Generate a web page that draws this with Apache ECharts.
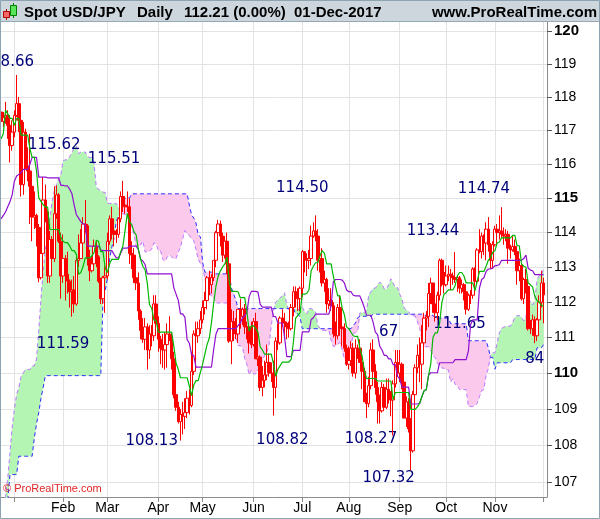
<!DOCTYPE html>
<html><head><meta charset="utf-8">
<script src="https://cdn.jsdelivr.net/npm/echarts@6/dist/echarts.min.js"></script>
<style>html,body{margin:0;padding:0;background:#fff}#c{width:600px;height:519px}</style>
</head><body><div id="c"></div>
<script>
// ---- Data: Spot USD/JPY daily, 23-Dec-2016 .. 01-Dec-2017 ----
const opens = [
117.55,117.27,117.38,117.45,117.15,116.55,116.95,117.45,117.80,117.30,
115.40,116.95,115.95,115.80,115.35,114.45,114.50,114.15,112.70,113.40,
114.95,114.60,112.75,113.80,113.25,114.55,115.10,113.75,112.75,113.25,
112.80,112.60,112.30,112.35,111.95,113.20,113.25,113.70,114.25,114.20,
113.25,112.90,113.10,113.60,113.30,112.60,112.10,112.70,112.75,113.75,
114.40,114.05,113.95,113.95,114.40,115.05,114.80,114.75,114.75,113.40,
113.35,112.70,112.55,111.75,111.20,110.95,111.30,110.65,111.10,111.05,
111.95,111.40,110.95,110.70,110.65,110.80,111.10,111.05,110.40,109.40,
109.05,108.65,108.85,108.80,108.90,109.30,109.10,110.05,111.10,111.05,
111.25,111.50,111.85,112.05,112.70,112.50,112.70,113.20,114.00,114.25,
113.90,113.35,113.75,113.10,110.90,111.45,111.25,111.10,111.80,111.60,
111.80,111.30,111.30,110.85,110.80,111.45,110.40,110.45,109.60,109.80,
109.95,110.30,110.00,110.00,109.60,110.90,110.85,111.55,111.45,111.40,
111.30,111.25,111.85,112.30,112.30,112.10,112.40,113.45,113.25,113.20,
113.25,113.90,114.05,113.90,113.20,113.25,112.55,112.65,111.95,112.05,
111.90,111.10,111.05,111.85,111.30,111.25,110.70,110.25,110.35,110.70,
110.00,110.70,110.70,110.30,110.05,109.20,109.15,109.65,110.65,110.05,
109.60,109.20,108.95,109.60,109.05,109.55,109.35,109.25,109.70,110.30,
110.00,110.25,109.75,108.75,109.20,108.45,107.85,109.40,110.15,110.50,
110.25,110.85,111.55,111.60,112.25,112.55,111.95,111.70,112.20,113.20,
112.85,112.50,112.75,112.80,112.75,112.70,112.65,112.70,112.40,112.50,
112.30,111.80,112.20,112.20,112.95,112.60,113.50,113.45,113.90,113.70,
114.10,113.65,113.20,113.65,114.10,114.00,114.05,113.95,113.90,113.95,
113.55,113.50,113.60,113.45,112.90,113.05,112.10,112.65,112.45,111.25,
111.25,111.50,111.05,111.50,112.00,112.55];
const highs = [
117.70,117.55,117.85,117.60,117.25,117.30,117.60,118.66,118.00,117.45,
117.25,117.05,116.50,116.90,115.50,115.20,114.55,114.25,113.85,115.62,
115.40,114.65,114.05,113.90,115.35,115.37,115.15,114.00,113.95,113.35,
113.45,112.65,112.65,112.75,113.30,113.95,114.10,114.45,114.95,114.25,
113.50,113.30,113.80,113.75,113.35,112.70,112.75,113.05,114.00,114.50,
114.75,114.15,114.10,114.45,115.20,115.51,115.05,115.20,115.00,113.75,
113.55,112.90,112.85,111.80,111.55,111.55,111.40,111.35,111.35,112.20,
112.20,111.60,111.05,111.10,111.15,111.40,111.60,111.15,110.60,109.80,
109.20,109.00,109.20,109.30,109.50,109.55,110.60,111.20,111.45,111.45,
111.75,112.05,112.30,112.75,112.90,112.80,113.20,114.05,114.37,114.35,
114.00,113.90,114.00,113.20,111.80,111.75,111.55,111.80,112.10,111.85,
111.95,111.45,111.30,111.45,111.55,111.70,110.65,110.50,110.20,110.35,
110.80,110.55,110.30,110.35,111.00,111.40,111.60,111.80,111.70,111.45,
111.45,111.95,112.45,112.45,112.40,112.45,113.50,113.45,113.40,113.50,
114.20,114.30,114.50,114.10,113.45,113.55,112.90,112.70,112.40,112.40,
112.00,111.45,111.95,112.20,111.55,111.40,110.80,110.75,110.90,110.85,
110.95,110.80,110.95,110.40,110.15,109.45,109.90,110.85,110.95,110.25,
109.75,109.40,109.75,109.70,109.85,109.85,109.50,109.80,110.65,110.65,
110.65,110.30,109.90,109.35,109.30,108.75,109.50,110.25,110.80,111.00,
111.35,111.70,111.75,112.55,112.70,112.55,112.20,112.30,113.25,113.25,
112.95,113.05,113.05,112.95,112.85,113.44,112.75,112.75,112.65,112.55,
112.50,112.25,112.35,113.00,113.00,113.55,114.10,114.00,113.95,114.30,
114.45,113.70,113.75,114.20,114.25,114.50,114.74,114.15,114.10,114.05,
113.65,113.90,113.80,113.50,113.25,113.15,112.70,112.95,112.50,111.50,
111.65,111.60,111.55,112.20,112.90,112.70];
const lows = [
117.10,117.10,117.20,116.75,116.05,116.40,116.80,117.40,116.95,115.05,
115.10,115.85,115.50,114.25,113.75,114.10,113.60,112.57,112.65,113.10,
114.30,112.55,112.55,112.85,113.15,114.40,113.70,112.10,112.55,112.05,
112.25,111.85,111.59,111.70,111.90,113.00,113.25,113.55,114.00,113.05,
112.60,112.85,113.00,113.00,112.55,111.95,111.95,111.70,112.65,113.65,
113.80,113.60,113.70,113.85,114.30,114.60,114.55,114.60,113.10,112.95,
112.55,112.35,111.50,110.95,110.85,110.65,110.10,110.40,110.75,110.90,
111.25,110.60,110.25,110.15,110.10,110.15,110.90,110.10,109.30,108.95,
108.60,108.13,108.30,108.45,108.75,108.85,109.05,109.95,110.75,110.85,
111.10,111.40,111.65,111.80,112.20,112.25,112.60,113.00,113.75,113.60,
113.15,113.25,112.80,110.85,110.25,110.90,110.95,110.85,111.25,111.35,
111.10,110.95,110.55,110.70,110.75,110.40,110.20,109.50,109.35,109.60,
109.80,109.90,109.75,108.82,109.30,110.65,110.80,111.30,110.95,110.95,
111.00,111.20,111.60,111.85,111.75,111.75,112.15,112.85,112.75,112.95,
113.05,113.85,113.75,112.90,112.85,112.45,112.30,111.70,111.80,111.75,
111.00,110.80,110.95,111.05,110.75,110.60,110.20,110.10,110.20,109.90,
109.85,110.40,110.30,109.55,109.20,108.75,109.05,109.55,109.85,109.40,
108.60,108.60,108.90,108.95,109.00,109.15,108.80,108.27,109.60,109.90,
109.75,109.55,108.75,108.50,108.35,107.32,107.80,109.30,110.00,109.75,
109.55,110.70,111.20,111.30,111.95,111.70,111.45,111.50,112.05,112.45,
112.25,112.45,112.60,112.35,112.50,112.55,112.30,112.25,112.25,112.05,
111.65,111.75,111.95,112.10,112.40,112.50,113.40,113.25,113.35,113.20,
113.45,112.95,112.95,113.60,113.70,113.80,113.85,113.65,113.75,113.10,
113.25,113.45,113.35,112.50,112.60,112.05,111.95,112.25,111.20,111.10,
111.05,110.84,110.90,111.35,111.85,111.40];
const closes = [
117.27,117.38,117.45,117.15,116.55,116.95,117.45,117.80,117.30,115.40,
116.95,115.95,115.80,115.35,114.45,114.50,114.15,112.70,113.40,114.95,
114.60,112.75,113.80,113.25,114.55,115.10,113.75,112.75,113.25,112.80,
112.60,112.30,112.35,111.95,113.20,113.25,113.70,114.25,114.20,113.25,
112.90,113.10,113.60,113.30,112.60,112.10,112.70,112.75,113.75,114.40,
114.05,113.95,113.95,114.40,115.05,114.80,114.75,114.75,113.40,113.35,
112.70,112.55,111.75,111.20,110.95,111.30,110.65,111.10,111.05,111.95,
111.40,110.95,110.70,110.65,110.80,111.10,111.05,110.40,109.40,109.05,
108.65,108.85,108.80,108.90,109.30,109.10,110.05,111.10,111.05,111.25,
111.50,111.85,112.05,112.70,112.50,112.70,113.20,114.00,114.25,113.90,
113.35,113.75,113.10,110.90,111.45,111.25,111.10,111.80,111.60,111.80,
111.30,111.30,110.85,110.80,111.45,110.40,110.45,109.60,109.80,109.95,
110.30,110.00,110.00,109.60,110.90,110.85,111.55,111.45,111.40,111.30,
111.25,111.85,112.30,112.30,112.10,112.40,113.45,113.25,113.20,113.25,
113.90,114.05,113.90,113.20,113.25,112.55,112.65,111.95,112.05,111.90,
111.10,111.05,111.85,111.30,111.25,110.70,110.25,110.35,110.70,110.00,
110.70,110.70,110.30,110.05,109.20,109.15,109.65,110.65,110.05,109.60,
109.20,108.95,109.60,109.05,109.55,109.35,109.25,109.70,110.30,110.00,
110.25,109.75,108.75,109.20,108.45,107.85,109.40,110.15,110.50,110.25,
110.85,111.55,111.60,112.25,112.55,111.95,111.70,112.20,113.20,112.85,
112.50,112.75,112.80,112.75,112.70,112.65,112.70,112.40,112.50,112.30,
111.80,112.20,112.20,112.95,112.60,113.50,113.45,113.90,113.70,114.10,
113.65,113.20,113.65,114.10,114.00,114.05,113.95,113.90,113.95,113.55,
113.50,113.60,113.45,112.90,113.05,112.10,112.65,112.45,111.25,111.25,
111.50,111.05,111.50,112.00,112.55,112.21];
// Ichimoku lines
const tenkan = [
116.75,116.90,117.60,117.50,117.36,117.36,117.15,117.36,117.36,116.86,
116.86,116.86,116.86,116.46,116.20,116.20,115.80,115.01,114.91,114.81,
114.74,114.74,114.09,114.09,114.09,114.09,114.09,113.86,113.75,113.71,
113.71,113.61,113.48,113.48,113.37,112.80,112.85,113.02,113.27,113.27,
113.27,113.33,113.43,113.78,113.75,113.45,113.45,112.98,112.85,113.10,
113.23,113.23,113.23,113.23,113.45,113.61,114.08,114.56,114.31,114.23,
114.03,113.93,113.51,113.23,113.03,112.93,112.55,111.93,111.83,111.50,
111.48,111.15,111.15,111.15,111.15,111.15,111.15,111.15,110.75,110.28,
110.10,109.87,109.87,109.87,109.87,109.64,109.37,109.67,109.79,109.79,
110.03,110.25,110.53,110.80,110.98,111.43,111.98,112.45,112.74,112.89,
113.01,113.09,113.29,112.61,112.31,112.31,112.31,112.30,112.13,112.13,
112.13,111.73,111.18,111.33,111.33,111.25,111.15,110.73,110.65,110.53,
110.53,110.53,110.53,110.26,109.91,110.11,110.21,110.31,110.31,110.31,
110.31,110.39,110.88,111.55,111.63,111.70,112.23,112.23,112.25,112.35,
112.90,113.03,113.13,113.13,113.33,113.48,113.40,113.10,113.10,113.10,
112.75,112.45,112.18,112.18,111.83,111.65,111.30,111.25,111.15,111.05,
111.03,111.03,110.70,110.48,110.08,109.85,109.85,109.85,109.85,109.85,
109.78,109.78,109.78,109.78,109.78,109.78,109.78,109.26,109.46,109.46,
109.46,109.46,109.46,109.46,109.46,108.99,108.99,108.99,109.06,109.16,
109.34,109.51,109.54,109.94,110.25,111.00,111.13,111.13,111.40,111.98,
112.23,112.28,112.35,112.35,112.35,112.47,112.75,112.85,112.85,112.75,
112.55,112.55,112.55,112.55,112.33,112.60,112.88,112.88,112.88,113.03,
113.20,113.28,113.43,113.48,113.70,113.73,113.85,113.85,113.85,113.85,
113.85,113.92,113.92,113.62,113.62,113.10,113.03,113.00,112.55,112.50,
112.43,112.17,112.05,112.00,111.90,111.90];
const kijun = [
114.40,114.50,114.60,114.75,114.90,115.10,115.50,115.65,115.70,115.75,
115.85,115.85,115.85,116.00,116.20,116.20,116.20,115.62,115.62,115.62,
115.62,115.60,115.60,115.60,115.60,115.60,115.60,115.38,115.38,115.36,
115.36,115.26,115.13,114.80,114.52,114.42,114.32,114.25,114.25,113.61,
113.61,113.61,113.61,113.61,113.61,113.50,113.48,113.48,113.48,113.48,
113.48,113.37,113.27,113.27,113.40,113.55,113.55,113.55,113.61,113.61,
113.61,113.61,113.51,113.23,113.18,113.08,112.81,112.81,112.81,112.81,
112.81,112.81,112.81,112.81,112.81,112.81,112.81,112.81,112.41,112.23,
112.06,111.67,111.67,111.57,110.94,110.84,110.52,110.49,110.17,110.17,
110.17,110.17,110.17,110.17,110.17,110.17,110.67,111.09,111.25,111.25,
111.25,111.25,111.25,111.25,111.25,111.25,111.25,111.34,111.41,111.56,
111.61,111.71,112.16,112.31,112.31,112.31,112.29,111.94,111.86,111.86,
111.86,111.86,111.86,111.60,111.59,111.41,111.41,111.41,111.01,110.46,
110.46,110.46,110.64,110.64,110.64,110.64,111.16,111.16,111.16,111.16,
111.51,111.56,111.66,111.66,111.66,111.66,111.66,111.66,111.66,111.90,
112.58,112.65,112.65,112.65,112.63,112.55,112.35,112.30,112.30,112.20,
112.18,112.18,112.18,112.03,111.85,111.63,111.63,111.63,111.43,111.15,
111.08,110.75,110.65,110.50,110.50,110.40,110.40,110.24,110.24,109.91,
109.84,109.61,109.61,109.61,109.61,109.14,109.14,109.14,109.14,109.16,
109.34,109.51,109.54,109.94,110.01,110.01,110.01,110.01,110.29,110.29,
110.29,110.29,110.29,110.29,110.29,110.38,110.38,110.38,110.38,110.38,
110.38,110.62,111.37,111.50,111.50,111.50,112.40,112.65,112.70,112.88,
112.95,112.95,112.98,113.05,113.05,113.08,113.20,113.20,113.20,113.20,
113.20,113.20,113.20,113.20,113.20,113.20,113.25,113.35,112.97,112.92,
112.90,112.79,112.79,112.79,112.79,112.79];
const spanA = [
106.20,106.40,106.60,107.10,107.80,108.50,109.00,109.40,109.60,109.90,
110.00,110.10,110.10,110.10,110.20,110.20,110.40,111.20,112.10,112.90,
113.50,114.00,114.40,114.90,115.20,115.40,115.58,115.70,116.10,116.13,
116.13,116.23,116.33,116.51,116.53,116.31,116.36,116.36,116.36,116.23,
116.20,116.20,116.00,115.32,115.27,115.22,115.18,115.17,114.85,114.85,
114.85,114.85,114.85,114.74,114.57,114.54,114.54,114.44,114.31,114.14,
113.95,113.61,113.59,113.64,113.76,113.44,113.44,113.47,113.52,113.70,
113.68,113.48,113.47,113.23,113.17,113.29,113.36,113.30,113.25,113.25,
113.43,113.58,113.82,114.06,113.96,113.92,113.82,113.77,113.51,113.23,
113.11,113.01,112.68,112.37,112.32,112.16,112.15,111.98,111.98,111.98,
111.98,111.98,111.98,111.98,111.58,111.26,111.08,110.77,110.77,110.72,
110.41,110.24,109.95,110.08,109.98,109.98,110.10,110.21,110.35,110.49,
110.58,110.80,111.33,111.77,112.00,112.07,112.13,112.17,112.27,111.93,
111.78,111.78,111.78,111.82,111.77,111.85,111.87,111.72,111.67,111.82,
111.82,111.78,111.72,111.34,111.26,111.20,111.20,111.20,111.20,110.93,
110.75,110.76,110.81,110.86,110.66,110.39,110.39,110.43,110.76,111.10,
111.14,111.17,111.70,111.70,111.71,111.76,112.21,112.30,112.40,112.40,
112.50,112.57,112.53,112.38,112.38,112.50,112.67,112.55,112.42,112.42,
112.23,112.10,111.83,111.78,111.73,111.63,111.61,111.61,111.44,111.26,
110.97,110.74,110.74,110.74,110.64,110.50,110.43,110.27,110.22,110.14,
110.14,110.09,110.09,109.75,109.85,109.69,109.65,109.54,109.54,109.54,
109.54,109.07,109.07,109.07,109.10,109.16,109.34,109.51,109.54,109.94,
110.13,110.51,110.57,110.57,110.85,111.14,111.26,111.29,111.32,111.32,
111.32,111.43,111.57,111.62,111.62,111.57,111.47,111.59,111.96,112.03,
111.92,112.05,112.64,112.77,112.79,112.96];
const spanB = [
106.50,106.50,106.50,106.50,107.20,107.20,107.20,107.20,107.70,107.70,
107.70,107.70,107.70,107.70,107.70,108.20,108.60,108.90,109.30,109.60,
109.93,109.93,109.93,109.93,109.93,109.93,109.93,109.93,109.93,109.93,
109.93,109.93,109.93,109.93,109.93,109.93,109.93,109.93,109.93,109.93,
109.93,109.93,109.93,109.93,109.93,109.93,112.08,112.33,112.68,113.23,
113.58,113.83,114.33,114.48,114.58,114.83,115.01,115.01,115.01,115.13,
115.13,115.13,115.13,115.13,115.13,115.13,115.13,115.13,115.13,115.13,
115.13,115.13,115.13,115.13,115.13,115.13,115.13,115.13,115.13,115.13,
115.13,115.13,115.13,115.13,115.13,114.80,114.52,114.42,114.28,113.93,
113.88,113.14,112.86,112.86,112.86,112.86,112.81,112.81,112.81,112.81,
112.81,112.81,112.81,112.81,112.41,112.23,112.06,111.82,111.82,111.82,
111.82,111.82,111.82,111.82,111.82,111.82,111.82,111.82,111.82,111.82,
111.82,111.82,111.82,111.82,111.82,111.82,111.82,111.82,111.82,111.82,
111.82,111.82,111.82,111.67,111.67,111.57,111.25,111.25,111.25,111.25,
111.25,111.25,111.25,111.25,111.25,111.25,111.25,111.25,111.25,111.25,
111.25,111.25,111.25,111.25,111.25,111.25,111.25,111.25,111.25,111.34,
111.41,111.56,111.60,111.60,111.60,111.60,111.60,111.60,111.66,111.66,
111.66,111.66,111.66,111.66,111.66,111.66,111.66,111.66,111.66,111.66,
111.66,111.66,111.66,111.66,111.66,111.66,111.66,111.66,111.66,111.66,
111.66,111.63,111.63,111.63,111.63,111.63,111.55,111.55,111.55,111.55,
111.55,111.55,111.55,111.39,111.39,111.39,111.39,111.39,111.39,111.39,
111.39,110.91,110.91,110.91,110.91,110.91,110.91,110.91,110.91,110.91,
110.71,110.44,110.44,110.11,110.29,110.29,110.29,110.29,110.29,110.29,
110.29,110.38,110.38,110.38,110.38,110.38,110.38,110.38,110.38,110.38,
110.38,110.38,110.71,110.71,110.71,110.81];
const priceTicks = [107,108,109,110,111,112,113,114,115,116,117,118,119,120];
const monthNames = ['Jan','Feb','Mar','Apr','May','Jun','Jul','Aug','Sep','Oct','Nov','Dec'];
const hiddenMonthLabels = ['Jan','Dec'];
const annoText  = ['118.66','115.62','115.51','111.59','108.13','114.50','108.82','108.27','107.32','113.44','114.74','67','111.65','84'];
const annoIdx   = [3,24,51,28,68,136,127,167,175,195,218,175,207,241];
const annoPrice = [119.05,116.57,116.15,110.82,108.12,115.30,108.14,108.17,107.10,114.04,115.27,111.16,111.38,110.39];

// ---- categories: weekdays ----
const dates = [];
for (let d = new Date(Date.UTC(2016,11,23)); dates.length < 247; d.setUTCDate(d.getUTCDate()+1)) {
  const wd = d.getUTCDay(); if (wd === 0 || wd === 6) continue;
  dates.push(d.toISOString().slice(0,10));
}
const isMonthStart = i => i > 0 && dates[i].slice(5,7) !== dates[i-1].slice(5,7);
const monthOf = v => monthNames[parseInt(v.slice(5,7),10)-1];

const L = Math.log;
const candle = opens.map((o,i) => [L(o), L(closes[i]), L(lows[i]), L(highs[i])]);
const lnA = spanA.map(L), lnB = spanB.map(L);
const cBase = lnA.map((a,i) => Math.min(a, lnB[i]));
const cGreen = lnA.map((a,i) => Math.max(a - lnB[i], 0));
const cPink = lnA.map((a,i) => Math.max(lnB[i] - a, 0));

const FONT = "'Liberation Sans', Arial, sans-serif";
const chart = echarts.init(document.getElementById('c'), null, {renderer:'canvas'});
const lineBase = {type:'line', symbol:'none', silent:true, animation:false};
chart.setOption({
  animation: false,
  backgroundColor: '#ffffff',
  textStyle: {fontFamily: FONT},
  grid: {left: 0, right: 53, top: 22, bottom: 22, containLabel: false},
  xAxis: {
    type: 'category', data: dates, boundaryGap: true,
    axisLine: {show: true, lineStyle: {color: '#8c8c8c'}},
    axisTick: {show: true, alignWithLabel: true, length: 5, interval: (i) => isMonthStart(i), lineStyle: {color: '#8c8c8c'}},
    axisLabel: {interval: (i, v) => isMonthStart(i) && hiddenMonthLabels.indexOf(monthOf(v)) < 0,
      formatter: v => monthOf(v), color: '#000', fontSize: 14, margin: 4, fontFamily: FONT},
    splitLine: {show: true, alignWithLabel: true, interval: (i) => isMonthStart(i), lineStyle: {color: '#e3e3e3', width: 1}}
  },
  yAxis: {
    type: 'value', position: 'right', min: L(106.59), max: L(120.27),
    axisLine: {show: true, lineStyle: {color: '#8c8c8c'}},
    axisTick: {show: true, length: 5, customValues: priceTicks.map(L), lineStyle: {color: '#555'}},
    axisLabel: {customValues: priceTicks.map(L), margin: 7, color: '#000',
      formatter: v => { const p = Math.round(Math.exp(v)); return (p % 5 === 0 ? '{b|' : '{n|') + p + '}'; },
      rich: {b: {fontWeight: 'bold', fontSize: 15, color: '#000', fontFamily: FONT}, n: {fontSize: 14, color: '#000', fontFamily: FONT}}},
    splitLine: {show: true, lineStyle: {color: '#e3e3e3', width: 1}}
  },
  series: [
    Object.assign({}, lineBase, {name:'cbg', data: cBase, stack: 'g', lineStyle: {opacity: 0}, z: 1}),
    Object.assign({}, lineBase, {name:'cg', data: cGreen, stack: 'g', lineStyle: {opacity: 0}, areaStyle: {color: '#b4f5b4', opacity: 1}, z: 1}),
    Object.assign({}, lineBase, {name:'cbp', data: cBase, stack: 'p', lineStyle: {opacity: 0}, z: 1}),
    Object.assign({}, lineBase, {name:'cp', data: cPink, stack: 'p', lineStyle: {opacity: 0}, areaStyle: {color: '#fbc9eb', opacity: 1}, z: 1}),
    Object.assign({}, lineBase, {name:'Senkou A', data: lnA, lineStyle: {color: '#bb77ff', width: 1, type: [4,3]}, z: 2}),
    Object.assign({}, lineBase, {name:'Senkou B', data: lnB, lineStyle: {color: '#2a2aff', width: 1, type: [4,3]}, z: 2}),
    {type: 'scatter', name: 'labels', silent: true, z: 2, symbolSize: 1, itemStyle: {color: 'rgba(0,0,0,0)'},
     data: annoIdx.map((ix,k) => [ix, L(annoPrice[k])]),
     label: {show: true, position: 'inside', opacity: 1, formatter: p => annoText[p.dataIndex], color: '#00007a', fontSize: 15, fontFamily: "'DejaVu Sans', sans-serif"}},
    {type: 'candlestick', name: 'USD/JPY', data: candle, barWidth: 3, z: 3, silent: true,
     itemStyle: {color: '#ffffff', color0: '#ff0000', borderColor: '#ff0000', borderColor0: '#ff0000', borderWidth: 1}},
    Object.assign({}, lineBase, {name:'Kijun', data: kijun.map(L), lineStyle: {color: '#9010d0', width: 1.2}, z: 4}),
    Object.assign({}, lineBase, {name:'Tenkan', data: tenkan.map(L), lineStyle: {color: '#00b800', width: 1.2}, z: 4})
  ],
  graphic: [
    {type: 'rect', shape: {x: 0, y: 0, width: 600, height: 22}, style: {fill: '#cdd6dd'}, z: 100, silent: true},
    {type: 'rect', shape: {x: 0, y: 21, width: 600, height: 1}, style: {fill: '#95a8b6'}, z: 100, silent: true},
    {type: 'rect', shape: {x: 0.5, y: 0.5, width: 599, height: 518}, style: {fill: null, stroke: '#8ea3b2', lineWidth: 1}, z: 100, silent: true},
    // candle icon
    {type: 'line', shape: {x1: 6.5, y1: 9, x2: 6.5, y2: 20}, style: {stroke: '#a00000', lineWidth: 1}, z: 101},
    {type: 'rect', shape: {x: 3.5, y: 11.5, width: 6, height: 6}, style: {fill: '#f26868', stroke: '#b00000', lineWidth: 1}, z: 102},
    {type: 'line', shape: {x1: 13.5, y1: 3, x2: 13.5, y2: 18}, style: {stroke: '#007000', lineWidth: 1}, z: 101},
    {type: 'rect', shape: {x: 10.5, y: 5.5, width: 6, height: 10}, style: {fill: '#5ae65a', stroke: '#008000', lineWidth: 1}, z: 102},
    {type: 'text', x: 24, y: 12.5, style: {text: 'Spot USD/JPY', fill: '#000', font: "bold 15px 'Liberation Sans', Arial", textVerticalAlign: 'middle'}, z: 101},
    {type: 'text', x: 137, y: 12.5, style: {text: 'Daily', fill: '#000', font: "bold 15px 'Liberation Sans', Arial", textVerticalAlign: 'middle'}, z: 101},
    {type: 'text', x: 184, y: 12.5, style: {text: '112.21 (0.00%)', fill: '#000', font: "bold 15px 'Liberation Sans', Arial", textVerticalAlign: 'middle'}, z: 101},
    {type: 'text', x: 294, y: 12.5, style: {text: '01-Dec-2017', fill: '#000', font: "bold 15px 'Liberation Sans', Arial", textVerticalAlign: 'middle'}, z: 101},
    {type: 'text', x: 597, y: 12.5, style: {text: 'www.ProRealTime.com', fill: '#000', font: "bold 15px 'Liberation Sans', Arial", textAlign: 'right', textVerticalAlign: 'middle'}, z: 101},
    {type: 'text', x: 3, y: 489, style: {text: '\u00A9 ProRealTime.com', fill: '#e32626', font: "11px 'Liberation Sans', Arial", textVerticalAlign: 'middle'}, z: 101}
  ]
});
</script></body></html>
